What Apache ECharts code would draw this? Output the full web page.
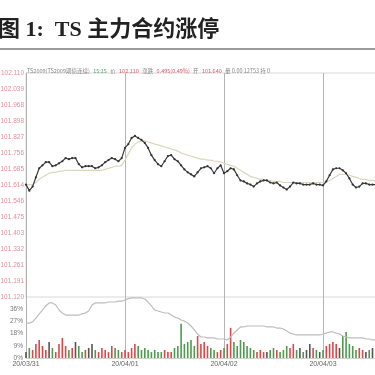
<!DOCTYPE html>
<html><head><meta charset="utf-8">
<script src="https://cdn.jsdelivr.net/npm/echarts@6/dist/echarts.min.js"></script>
<style>html,body{margin:0;padding:0;background:#fff}#c{width:375px;height:375px}</style>
</head><body><div id="c"></div>
<script>
// ---- data ----
const timeLabels = ['20/03/31', '20/04/01', '20/04/02', '20/04/03', '20/04/07'];
const priceTicks = ['101.120','101.191','101.261','101.332','101.403','101.475','101.546','101.614','101.685','101.756','101.827','101.898','101.968','102.039','102.110'];
const volTicks = ['0%', '9%', '18%', '27%', '36%'];
const price = [101.617,101.590,101.608,101.649,101.689,101.702,101.716,101.716,101.698,101.702,
101.711,101.720,101.734,101.729,101.734,101.734,101.707,101.693,101.698,101.698,
101.698,101.689,101.693,101.702,101.716,101.725,101.734,101.729,101.720,101.734,
101.779,101.796,101.823,101.832,101.823,101.814,101.801,101.779,101.747,101.725,
101.707,101.698,101.720,101.743,101.747,101.729,101.720,101.702,101.684,101.671,
101.662,101.653,101.671,101.689,101.693,101.698,101.689,101.667,101.689,101.702,
101.667,101.676,101.689,101.684,101.658,101.635,101.631,101.622,101.617,101.608,
101.622,101.631,101.635,101.635,101.626,101.622,101.626,101.613,101.604,101.595,
101.608,101.626,101.622,101.622,101.617,101.617,101.617,101.622,101.617,101.617,
101.613,101.631,101.658,101.684,101.689,101.689,101.680,101.667,101.644,101.617,
101.604,101.608,101.622,101.622,101.617,101.617,101.617,101.622];
const avgPrice = [101.617,101.617,101.617,101.626,101.640,101.649,101.658,101.667,101.671,101.671,
101.676,101.676,101.680,101.680,101.680,101.680,101.680,101.680,101.680,101.680,
101.680,101.680,101.680,101.680,101.684,101.689,101.693,101.698,101.698,101.702,
101.725,101.752,101.779,101.796,101.805,101.810,101.810,101.805,101.801,101.796,
101.792,101.788,101.783,101.779,101.774,101.770,101.765,101.756,101.752,101.747,
101.743,101.738,101.734,101.729,101.729,101.725,101.725,101.720,101.720,101.716,
101.711,101.707,101.702,101.698,101.689,101.680,101.671,101.662,101.653,101.649,
101.644,101.640,101.640,101.635,101.635,101.631,101.631,101.631,101.626,101.626,
101.626,101.626,101.626,101.626,101.626,101.626,101.626,101.626,101.626,101.626,
101.626,101.631,101.635,101.644,101.653,101.662,101.662,101.662,101.658,101.653,
101.649,101.644,101.640,101.640,101.635,101.635,101.635,101.635];
const openInterest = [25.8,25.8,26.6,29.5,32.5,35.4,38.4,40.6,40.6,39.1,
35.4,33.2,31.7,31.7,31.7,31.7,31.7,32.5,33.2,34.7,
39.1,40.6,40.6,40.6,40.6,41.3,41.3,41.3,42.0,42.0,
42.8,43.8,44.3,44.3,44.3,44.3,43.5,41.3,38.4,35.4,
34.7,33.9,33.2,33.2,31.7,30.2,29.5,28.0,27.3,25.8,
23.6,20.7,17.7,15.5,15.5,14.8,14.8,14.8,14.0,14.0,
14.0,13.3,15.5,18.4,20.7,22.9,22.9,23.6,23.6,23.6,
23.6,23.6,23.6,22.9,22.9,22.9,22.1,22.1,21.4,19.9,
18.4,17.7,17.0,17.0,17.0,17.0,17.0,17.0,17.0,17.0,
17.7,18.4,19.2,19.2,18.4,17.7,16.2,15.5,14.8,14.8,
14.8,14.8,14.8,14.0,14.0,13.3,13.3,13.3];
const volume = [4.4,7.4,5.9,10.4,13.3,8.9,5.9,11.8,7.4,4.4,
10.4,14.8,8.9,5.9,7.4,11.8,8.9,4.4,5.9,7.4,
10.4,5.9,4.4,7.4,5.9,4.4,8.9,7.4,5.9,4.4,
5.9,4.4,7.4,10.4,8.9,5.9,7.4,5.9,4.4,5.9,
4.4,4.4,5.9,4.4,4.4,7.4,8.9,25.2,10.4,11.8,
13.3,8.9,16.3,10.4,11.8,8.9,7.4,5.9,4.4,5.9,
7.4,10.4,22.2,11.8,8.9,13.3,11.8,8.9,7.4,5.9,
4.4,5.9,4.4,4.4,5.9,7.4,5.9,4.4,5.9,8.9,
7.4,10.4,5.9,7.4,4.4,5.9,10.4,7.4,5.9,4.4,
5.9,8.9,10.4,11.8,10.4,7.4,16.3,19.2,10.4,8.9,
5.9,7.4,5.9,4.4,5.9,7.4,5.9,4.4];

// ---- chart ----
const P_MIN = 101.120, P_MAX = 102.110, P_STEP = (P_MAX - P_MIN) / 14;
const X_MAX = 120, X_STEP = 30;
const pricePts = price.map((v, i) => [i, v]);
const avgPts = avgPrice.map((v, i) => [i, v]);
const oiPts = openInterest.map((v, i) => [i, v]);
const volPts = volume.map((v, i) => {
  const d = i === 0 ? 0 : price[i] - price[i - 1];
  const c = d > 0.0005 ? '#d84a4a' : (d < -0.0005 ? '#4f9a4f' : '#555');
  return { value: [i, v], itemStyle: { color: c } };
});

const chart = echarts.init(document.getElementById('c'), null, { renderer: 'canvas' });
const gridW = 396;
chart.setOption({
  animation: false,
  backgroundColor: '#fff',
  grid: [
    { left: 26, top: 73, width: gridW, height: 224, show: true, borderColor: '#d8d8d8', borderWidth: 1,
      outerBoundsMode: 'none', containLabel: false },
    { left: 26, top: 297, width: gridW, height: 61, outerBoundsMode: 'none', containLabel: false }
  ],
  xAxis: [
    { gridIndex: 0, type: 'value', min: 0, max: X_MAX, interval: X_STEP,
      axisLine: { show: false }, axisTick: { show: false }, axisLabel: { show: false },
      splitLine: { show: true, lineStyle: { color: '#b4b4b4', width: 1 } } },
    { gridIndex: 1, type: 'value', min: 0, max: X_MAX, interval: X_STEP,
      axisLine: { show: true, lineStyle: { color: '#d0d0d0' } }, axisTick: { show: false },
      axisLabel: { color: '#666', fontSize: 7, fontFamily: 'Liberation Sans', margin: 3,
        formatter: v => timeLabels[Math.round(v / X_STEP)] || '' },
      splitLine: { show: true, lineStyle: { color: '#b4b4b4', width: 1 } } }
  ],
  yAxis: [
    { gridIndex: 0, type: 'value', min: P_MIN, max: P_MAX, interval: P_STEP,
      axisLine: { show: true, lineStyle: { color: '#b0b0b0' } }, axisTick: { show: false },
      splitLine: { show: false },
      axisLabel: { color: '#e58c9c', fontSize: 6.5, fontFamily: 'Liberation Sans', margin: 2,
        formatter: v => priceTicks[Math.round((v - P_MIN) / P_STEP)] || '' } },
    { gridIndex: 1, type: 'value', min: 0, max: 45, interval: 9,
      axisLine: { show: true, lineStyle: { color: '#b0b0b0' } }, axisTick: { show: false },
      splitLine: { show: false },
      axisLabel: { color: '#777', fontSize: 6.5, fontFamily: 'Liberation Sans', margin: 3,
        showMaxLabel: false,
        formatter: v => volTicks[Math.round(v / 9)] || '' } }
  ],
  series: [
    { type: 'line', xAxisIndex: 0, yAxisIndex: 0, data: avgPts, symbol: 'none',
      lineStyle: { color: '#dcd6bd', width: 1.2 }, z: 2 },
    { type: 'line', xAxisIndex: 0, yAxisIndex: 0, data: pricePts, symbol: 'circle', symbolSize: 2.2,
      itemStyle: { color: '#333' }, lineStyle: { color: '#3a3a3a', width: 1.2 }, z: 3 },
    { type: 'bar', xAxisIndex: 1, yAxisIndex: 1, data: volPts, barWidth: 1.6, z: 2 },
    { type: 'line', xAxisIndex: 1, yAxisIndex: 1, data: oiPts, symbol: 'none',
      lineStyle: { color: '#bdbdbd', width: 1.2 }, z: 3 }
  ],
  graphic: [
    { type: 'text', left: -2, top: 19, style: { text: '图 1:  TS 主力合约涨停',
      font: 'bold 22px "Liberation Serif", "Noto Sans CJK SC", serif', fill: '#222' } },
    { type: 'rect', left: 0, top: 48, shape: { width: 375, height: 2 }, style: { fill: '#9a9a9a' } },
    { type: 'text', left: 27, top: 65, style: {
      text: '{g|TS2009(TS2009期债连续)} {n|15:15} {g|价} {r|102.110} {g|涨跌} {r|0.495(0.49%)} {g|开} {r|101.640} {g|量 0.00 12753 持 0}',
      rich: {
        g: { fill: '#888', font: '5.5px "Noto Sans CJK SC"' },
        n: { fill: '#5aa06a', font: '5.5px "Noto Sans CJK SC"' },
        r: { fill: '#d45a6a', font: '5.5px "Noto Sans CJK SC"' }
      } } }
  ]
});
</script>
</body></html>
